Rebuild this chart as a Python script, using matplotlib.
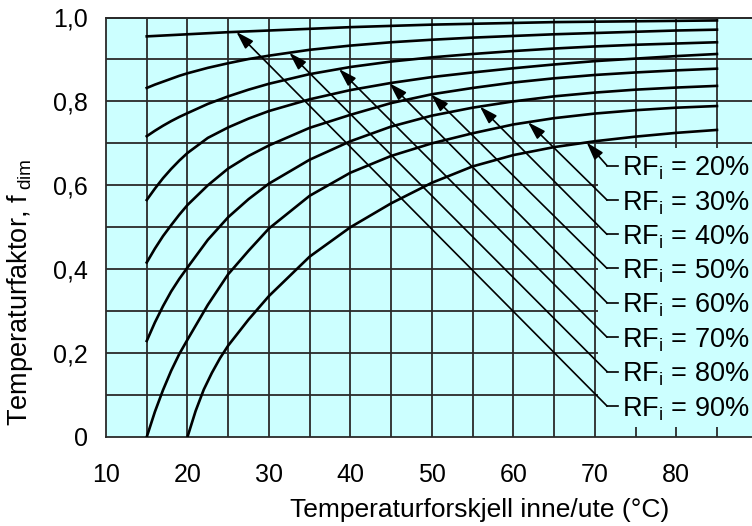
import numpy as np
import matplotlib
matplotlib.use("Agg")
import matplotlib.pyplot as plt
from matplotlib.patches import Rectangle

plt.rcParams['font.family'] = ['Liberation Sans', 'DejaVu Sans']
plt.rcParams['mathtext.fontset'] = 'custom'
plt.rcParams['mathtext.rm'] = 'Liberation Sans'
plt.rcParams['mathtext.it'] = 'Liberation Sans:italic'

# ---- data ----
x_main = [15, 16, 17, 18, 19, 20, 22.5, 25, 27.5, 30, 35, 40, 45, 50, 55, 60, 65, 70, 75, 80, 85]
x_rf20 = [20, 21, 22, 23, 24, 25, 27.5, 30, 35, 40, 45, 50, 55, 60, 65, 70, 75, 80, 85]

f_rf20 = [0.0, 0.062, 0.113, 0.153, 0.188, 0.218, 0.280, 0.336, 0.430, 0.500, 0.557, 0.606,
          0.645, 0.672, 0.691, 0.705, 0.716, 0.725, 0.732]
f_rf30 = [0.0, 0.060, 0.112, 0.158, 0.198, 0.232, 0.315, 0.388, 0.444, 0.497, 0.575, 0.630,
          0.670, 0.700, 0.724, 0.745, 0.760, 0.771, 0.779, 0.785, 0.789]
f_rf40 = [0.229, 0.273, 0.312, 0.347, 0.377, 0.404, 0.470, 0.524, 0.567, 0.604, 0.661, 0.705,
          0.740, 0.766, 0.785, 0.800, 0.812, 0.821, 0.828, 0.833, 0.837]
f_rf50 = [0.416, 0.449, 0.479, 0.505, 0.530, 0.553, 0.600, 0.640, 0.670, 0.695, 0.737, 0.768,
          0.796, 0.817, 0.832, 0.845, 0.855, 0.863, 0.869, 0.874, 0.878]
f_rf60 = [0.565, 0.592, 0.617, 0.639, 0.659, 0.677, 0.713, 0.738, 0.759, 0.777, 0.805, 0.827,
          0.844, 0.858, 0.869, 0.879, 0.888, 0.896, 0.902, 0.908, 0.913]
f_rf70 = [0.717, 0.730, 0.742, 0.753, 0.763, 0.772, 0.794, 0.812, 0.828, 0.842, 0.865, 0.882,
          0.895, 0.905, 0.913, 0.920, 0.926, 0.931, 0.935, 0.938, 0.941]
f_rf80 = [0.832, 0.840, 0.847, 0.854, 0.861, 0.867, 0.880, 0.891, 0.901, 0.909, 0.923, 0.933,
          0.941, 0.947, 0.952, 0.956, 0.960, 0.963, 0.966, 0.969, 0.971]
f_rf90 = [0.955, 0.956, 0.957, 0.958, 0.959, 0.960, 0.9625, 0.965, 0.967, 0.969, 0.973, 0.977,
          0.980, 0.983, 0.985, 0.987, 0.989, 0.990, 0.991, 0.992, 0.993]

rf_labels = ["20%", "30%", "40%", "50%", "60%", "70%", "80%", "90%"]
# x position where each label's pointer arrow touches its curve
arrow_tip_x = [69.0, 61.8, 55.9, 49.9, 44.8, 38.6, 32.5, 26.0]
# vertical position of each label row
label_y = [0.647, 0.565, 0.483, 0.402, 0.320, 0.238, 0.156, 0.074]

x_ticks = [10, 20, 30, 40, 50, 60, 70, 80]
y_ticks = [0, 0.2, 0.4, 0.6, 0.8, 1.0]
y_ticklabels = ["0", "0,2", "0,4", "0,6", "0,8", "1,0"]

curves = [(x_rf20, f_rf20), (x_main, f_rf30), (x_main, f_rf40), (x_main, f_rf50),
          (x_main, f_rf60), (x_main, f_rf70), (x_main, f_rf80), (x_main, f_rf90)]

# ---- figure ----
W, H = 752, 526
fig = plt.figure(figsize=(W / 100, H / 100), dpi=100)
ax = fig.add_axes([106 / W, 1 - 437 / H, (W - 106) / W, (437 - 17.5) / H])
XMAX = 89.3
ax.set_xlim(10, XMAX)
ax.set_ylim(0, 1)
cyan = '#ccffff'
ax.set_facecolor(cyan)

gcol = '#2a2a2a'
for xv in np.arange(15, 86, 5):
    ax.plot([xv, xv], [0, 1], color=gcol, lw=1.3, zorder=1, solid_capstyle='butt')
for yv in np.arange(0.1, 1.01, 0.1):
    ax.plot([10, XMAX], [yv, yv], color=gcol, lw=1.3, zorder=1, solid_capstyle='butt',
            clip_on=False)

# label panel covering the grid
ax.add_patch(Rectangle((70.4, 0.025), XMAX - 70.4, 0.69 - 0.025, facecolor=cyan,
                       edgecolor='none', zorder=2))

for xs, fs in curves:
    ax.plot(xs, fs, color='black', lw=1.9, zorder=3)

for (xs, fs), lab, tx, ly in zip(curves, rf_labels, arrow_tip_x, label_y):
    ty = float(np.interp(tx, xs, fs))
    ax.plot([71.5, 72.9], [ly, ly], color='black', lw=1.2, zorder=4)
    ax.annotate('', xy=(tx, ty), xytext=(71.5, ly),
                arrowprops=dict(arrowstyle='-|>,head_length=0.9,head_width=0.28',
                                mutation_scale=12, lw=1.2, color='black',
                                shrinkA=0, shrinkB=0), zorder=4)
    ax.text(73.35, ly - 0.024, r"RF$_\mathrm{i}$ = " + lab, fontsize=19.5,
            ha='left', va='baseline', zorder=5, clip_on=False)

for s in ['right']:
    ax.spines[s].set_visible(False)
for s in ['left', 'bottom', 'top']:
    ax.spines[s].set_linewidth(1.3)
    ax.spines[s].set_color(gcol)

ax.set_xticks(x_ticks)
ax.set_xticklabels([str(v) for v in x_ticks])
ax.set_yticks(y_ticks)
ax.set_yticklabels(y_ticklabels)
ax.tick_params(axis='both', length=0, labelsize=18)
ax.tick_params(axis='x', pad=19)
ax.tick_params(axis='y', pad=13)

fig.text(480 / W, 1 - 510 / H, "Temperaturforskjell inne/ute (°C)", fontsize=19,
         ha='center', va='center')
fig.text(20 / W, 1 - 292 / H, r"Temperaturfaktor, f$_{\ \mathrm{dim}}$", fontsize=19.5,
         rotation=90, ha='center', va='center')

fig.savefig("out.png", dpi=100, facecolor='white')
